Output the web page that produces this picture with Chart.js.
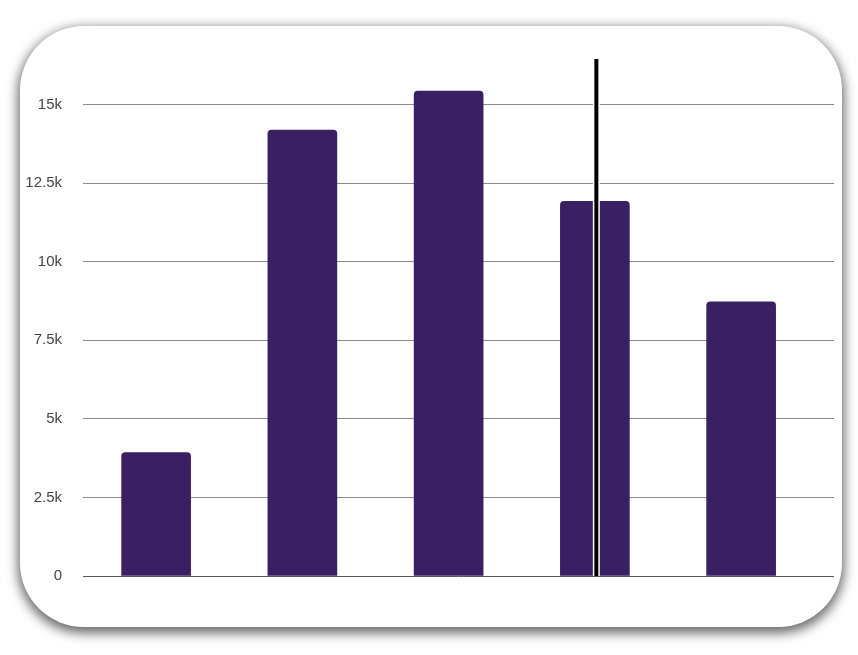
<!DOCTYPE html>
<html>
<head>
<meta charset="utf-8">
<script src="https://cdn.jsdelivr.net/npm/chart.js@4.4.0/dist/chart.umd.min.js"></script>
<style>
  html, body { margin: 0; padding: 0; background: #fff; }
  body { width: 858px; height: 655px; position: relative; overflow: hidden; }
  .card {
    position: absolute; left: 20px; top: 26px; width: 822px; height: 601px;
    background: #fff; border-radius: 64px;
    box-shadow: 0 4px 12px 2px rgba(0, 0, 0, 0.6);
  }
  #chart { position: absolute; left: 0; top: 0; }
</style>
</head>
<body>
<div class="card"></div>
<canvas id="chart" width="858" height="655"></canvas>
<script>
const categories = ["1", "2", "3", "4", "5"];
const values = [3930, 14190, 15430, 11920, 8720];
const tickValues = [0, 2500, 5000, 7500, 10000, 12500, 15000];
const tickLabels = ["0", "2.5k", "5k", "7.5k", "10k", "12.5k", "15k"];
const markerPosition = 4.01; // vertical marker, on the x scale

const BAR_COLOR = "#3b1f63";

// vertical marker line drawn over the bars
const markerLine = {
  id: "markerLine",
  afterDatasetsDraw(chart) {
    const { ctx, chartArea, scales } = chart;
    const x = scales.x.getPixelForValue(markerPosition);
    ctx.save();
    ctx.beginPath();
    ctx.moveTo(x, chartArea.top);
    ctx.lineTo(x, chartArea.bottom);
    ctx.strokeStyle = "#fff";
    ctx.lineWidth = 7;
    ctx.stroke();
    ctx.beginPath();
    ctx.moveTo(x, chartArea.top);
    ctx.lineTo(x, chartArea.bottom);
    ctx.strokeStyle = "#000";
    ctx.lineWidth = 4;
    ctx.stroke();
    ctx.restore();
  },
};

const ctx = document.getElementById("chart").getContext("2d");
new Chart(ctx, {
  type: "bar",
  data: {
    datasets: [{
      label: "Value",
      data: values.map((v, i) => ({ x: i + 1, y: v, label: categories[i] })),
      backgroundColor: BAR_COLOR,
      borderRadius: 4,
      borderSkipped: "bottom",
      barThickness: 69,
    }],
  },
  options: {
    responsive: false,
    animation: false,
    layout: { padding: { left: 0, right: 24, top: 59, bottom: 79 } },
    plugins: { legend: { display: false }, tooltip: { enabled: false } },
    scales: {
      x: {
        type: "linear",
        offset: false,
        min: 0.5,
        max: 5.635,
        display: false,
      },
      y: {
        min: 0,
        max: 16450,
        afterBuildTicks: (axis) => { axis.ticks = tickValues.map((v) => ({ value: v })); },
        afterFit: (axis) => { axis.width = 83; },
        border: { display: false },
        grid: {
          drawTicks: false,
          color: (c) => (c.tick && c.tick.value === 0 ? "#5a5a5a" : "#8a8a8a"),
          lineWidth: 1,
        },
        ticks: {
          padding: 21,
          color: "#444",
          font: { family: "Liberation Sans", size: 15 },
          callback: (v) => tickLabels[tickValues.indexOf(v)],
        },
      },
    },
  },
  plugins: [markerLine],
});
</script>
</body>
</html>
